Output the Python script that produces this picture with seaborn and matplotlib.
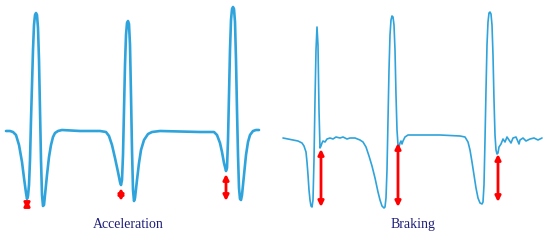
import matplotlib
matplotlib.use("Agg")
import matplotlib.pyplot as plt
import seaborn as sns
import pandas as pd

sns.set_theme(style="white")

accel_t = [6, 10, 13, 16, 19, 22, 24, 26, 27, 28, 29, 30, 31, 32, 33, 34, 35, 36, 37, 38, 39, 40, 41, 42, 43,
           44, 45, 47, 49, 51, 53, 55, 58, 62, 80, 100, 106, 109, 112, 115, 118, 120, 121, 122, 123, 124, 125,
           126, 127, 128, 129, 130, 131, 132, 133, 134, 135, 137, 139, 141, 144, 148, 152, 160, 200, 214, 217,
           220, 222, 224, 226, 227, 228, 229, 230, 231, 232, 233, 234, 235, 236, 237, 238, 239, 240, 241, 242,
           244, 246, 248, 250, 253, 256, 259]
accel_v = [131, 131, 132, 135, 145, 162, 178, 193, 199, 196, 185, 160, 120, 85, 50, 25, 15, 13, 15, 28, 60, 110,
           160, 195, 206, 205, 195, 175, 157, 145, 137, 133, 131, 130, 131, 131, 132, 136, 145, 158, 172, 182,
           185, 180, 155, 110, 65, 35, 23, 21, 24, 45, 95, 150, 190, 201, 198, 180, 163, 150, 140, 134, 132, 131,
           132, 132, 135, 143, 152, 163, 171, 168, 140, 95, 50, 20, 9, 7, 9, 22, 60, 110, 155, 188, 199, 200, 195,
           175, 155, 142, 135, 131, 130, 130]

brake_t = [8, 13, 18, 23, 27, 29, 31, 32, 33, 34, 35, 36, 37, 38, 39, 40, 41, 42, 43, 44, 45, 46, 47, 48, 50,
           52, 55, 58, 61, 65, 68, 72, 75, 80, 85, 88, 91, 94, 97, 100, 103, 105, 107, 109, 110, 111, 112, 113,
           114, 115, 116, 117, 118, 119, 120, 121, 122, 123, 124, 125, 126, 127, 128, 130, 133, 145, 165, 185,
           190, 193, 195, 197, 199, 201, 203, 205, 207, 208, 209, 210, 211, 212, 213, 214, 215, 216, 217, 218,
           219, 220, 221, 222, 223, 224, 226, 228, 230, 232, 234, 236, 238, 241, 244, 245, 248, 251, 255, 259,
           263, 267]
brake_v = [138, 139, 140, 141, 143, 146, 152, 162, 175, 190, 200, 206, 207, 200, 160, 100, 50, 27, 45, 110,
           148, 146, 143, 141, 142, 139, 138, 139, 137, 138, 137, 139, 138, 138, 140, 142, 147, 156, 166, 178,
           192, 200, 206, 208, 207, 198, 170, 120, 70, 35, 20, 16, 17, 25, 50, 95, 130, 145, 147, 143, 141, 144,
           141, 137, 135, 135, 135, 136, 137, 142, 150, 162, 175, 188, 198, 203, 204, 202, 185, 140, 90, 45, 22,
           13, 12, 14, 25, 55, 100, 135, 150, 154, 153, 147, 144, 139, 142, 137, 140, 143, 138, 137, 144, 140,
           138, 141, 139, 138, 140, 138]

# red double arrows: time, top level, bottom level
accel_arrow_t = [27, 121, 226]
accel_arrow_top = [200, 188, 174]
accel_arrow_bot = [209, 201, 201]
brake_arrow_t = [46, 123, 223]
brake_arrow_top = [149, 143, 154]
brake_arrow_bot = [207, 207, 202]

labels = ["Acceleration", "Braking"]

line_color = "#2fa3db"
label_color = "#1f1f7a"

fig = plt.figure(figsize=(5.5, 2.4), dpi=100)
ax1 = fig.add_axes([0, 0, 0.5, 1])
ax2 = fig.add_axes([0.5, 0, 0.5, 1])

panels = [
    (ax1, accel_t, accel_v, accel_arrow_t, accel_arrow_top, accel_arrow_bot, 1.9),
    (ax2, brake_t, brake_v, brake_arrow_t, brake_arrow_top, brake_arrow_bot, 1.2),
]

for i, (ax, t, v, at, atop, abot, lw) in enumerate(panels):
    df = pd.DataFrame({"t": t, "v": v})
    sns.lineplot(data=df, x="t", y="v", ax=ax, color=line_color, linewidth=lw,
                 sort=False, estimator=None)
    for x, y0, y1 in zip(at, atop, abot):
        ax.annotate("", xy=(x, y0), xytext=(x, y1),
                    arrowprops=dict(arrowstyle="<|-|>", color="red", lw=2,
                                    mutation_scale=8, shrinkA=0, shrinkB=0))
    ax.text(0.465 if i == 0 else 0.5, 0.065, labels[i], transform=ax.transAxes,
            ha="center", va="center", fontsize=10, color=label_color,
            family="Liberation Serif")
    ax.set_xlim(0, 275)
    ax.set_ylim(240, 0)
    ax.axis("off")

fig.savefig("out.png", dpi=100, facecolor="white")
